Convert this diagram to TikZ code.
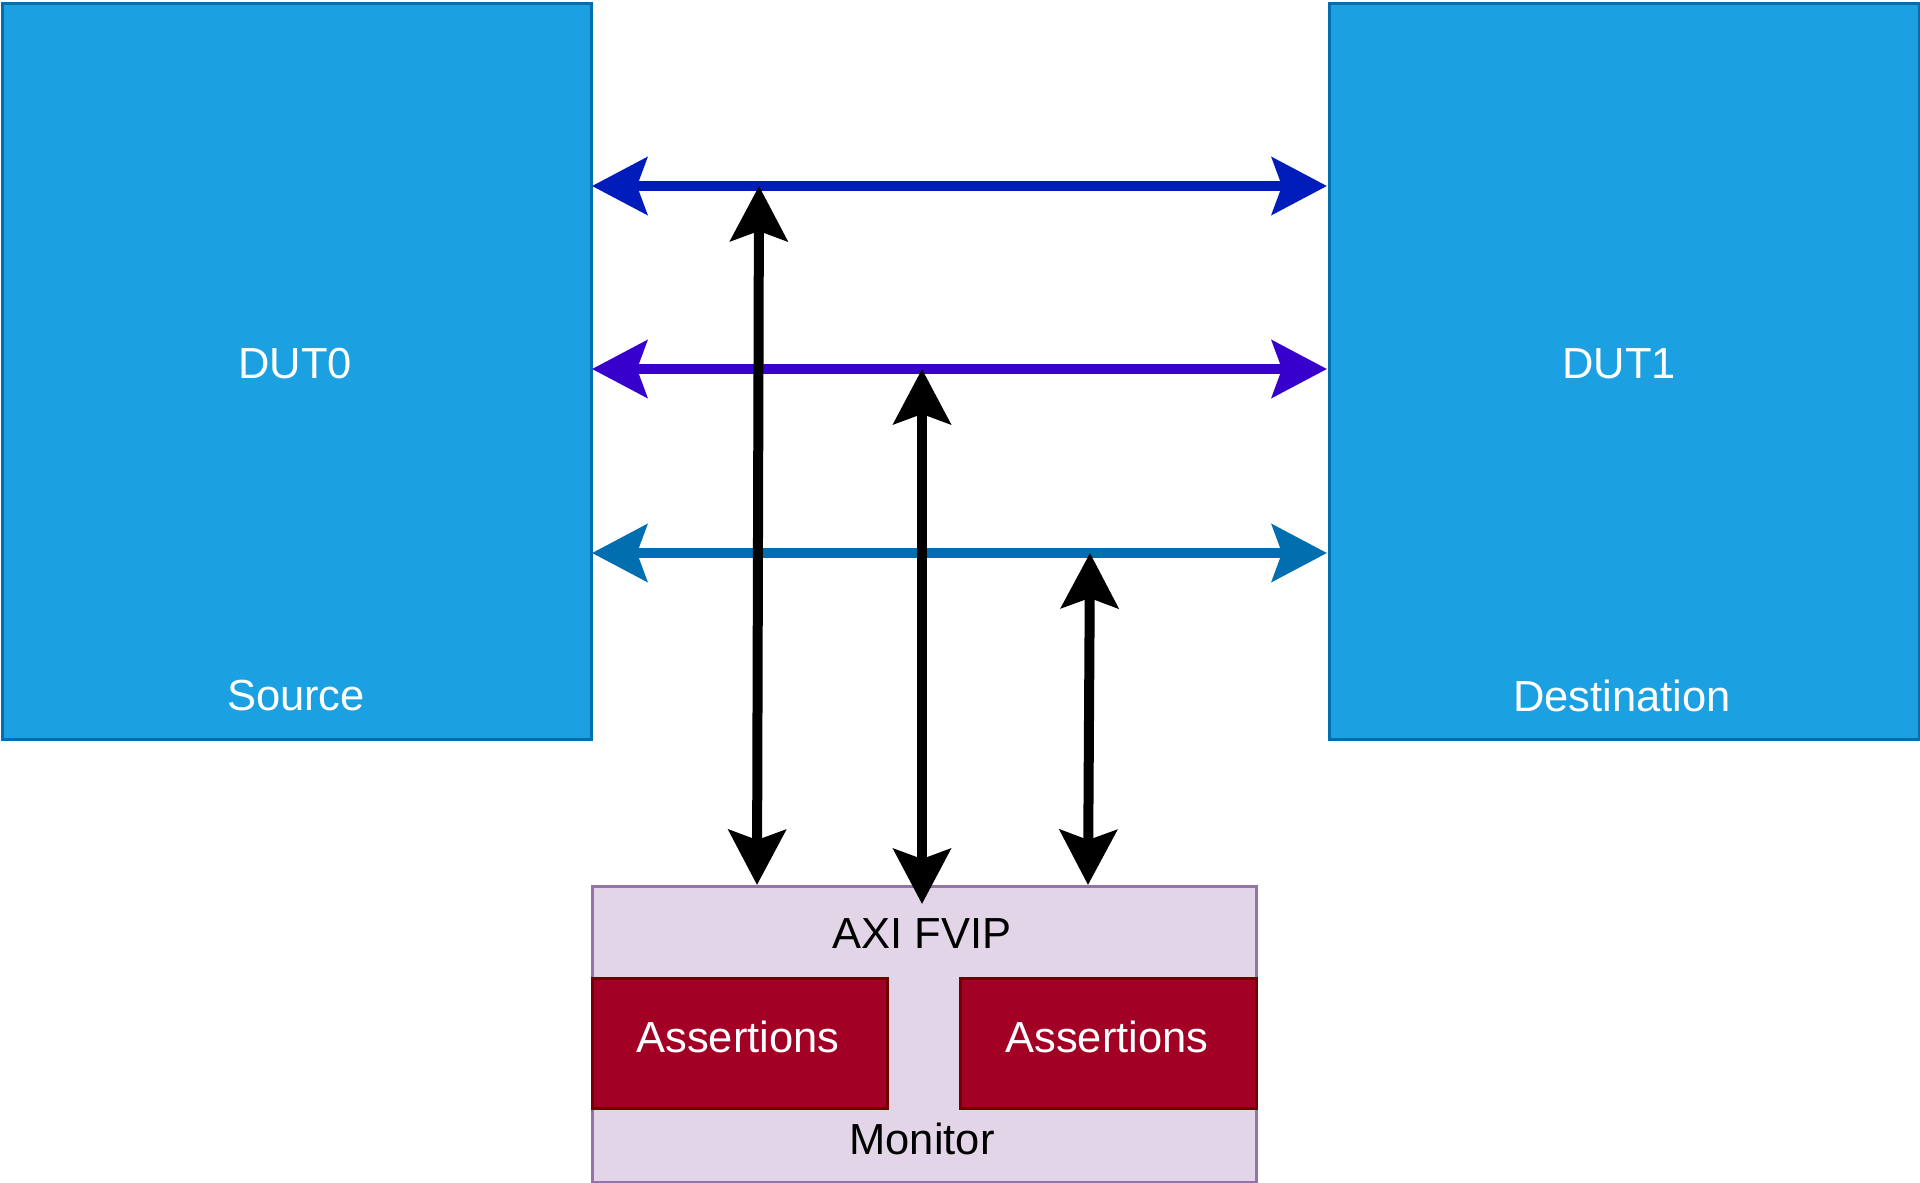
\documentclass[tikz,border=0pt]{standalone}
\usepackage{fontspec}
\setmainfont{Liberation Sans}
\usetikzlibrary{arrows.meta}
\definecolor{dutfill}{HTML}{1BA1E2}
\definecolor{dutline}{HTML}{006EAF}
\definecolor{monfill}{HTML}{E1D5E7}
\definecolor{monline}{HTML}{9673A6}
\definecolor{asfill}{HTML}{A20025}
\definecolor{asline}{HTML}{6F0000}
\definecolor{busA}{HTML}{001DBC}
\definecolor{busB}{HTML}{3700CC}
\definecolor{busC}{HTML}{006EAF}
\tikzset{
  box/.style={rectangle, inner sep=0pt, anchor=north west, line width=3pt},
  dutbox/.style={box, fill=dutfill, draw=dutline},
  monbox/.style={box, fill=monfill, draw=monline},
  asbox/.style={box, fill=asfill, draw=asline},
  lbl/.style={inner sep=0pt, font=\fontsize{43.5}{52}\selectfont},
  wlbl/.style={lbl, text=white},
  blbl/.style={lbl, text=black},
  >={Stealth[length=55pt,width=57pt,inset=10pt]},
  bus/.style={line width=10pt, <->},
  link/.style={line width=10pt, <->, draw=black},
}
\begin{document}
\begin{tikzpicture}[x=1pt,y=-1pt]
\useasboundingbox (0,0) rectangle (1920,1183);
% DUT boxes
\node[dutbox, minimum width=589pt, minimum height=736pt] (dut0) at (1,1.5) {};
\node[dutbox, minimum width=590pt, minimum height=736pt] (dut1) at (1327.5,1.5) {};
\node[wlbl] (dut0t) at (295,364) {DUT0};
\node[wlbl] (srct) at (296,696) {Source};
\node[wlbl] (dut1t) at (1619,364) {DUT1};
\node[wlbl] (dstt) at (1622,696) {Destination};
% monitor
\node[monbox, minimum width=664pt, minimum height=296pt] (mon) at (590.5,885) {};
\node[blbl] (axit) at (922,934) {AXI FVIP};
\node[blbl] (mont) at (922,1139) {Monitor};
\node[asbox, minimum width=295pt, minimum height=130pt] (as1) at (590.5,977) {};
\node[asbox, minimum width=296pt, minimum height=130pt] (as2) at (958.5,977) {};
\node[wlbl] (as1t) at (738,1037) {Assertions};
\node[wlbl] (as2t) at (1107,1037) {Assertions};
% bus coordinates
\coordinate (a0) at (592,186);
\coordinate (a1) at (1327,186);
\coordinate (b0) at (592,369);
\coordinate (b1) at (1327,369);
\coordinate (c0) at (592,553);
\coordinate (c1) at (1327,553);
\draw[bus, draw=busA, fill=busA] (a0) -- (a1);
\draw[bus, draw=busB, fill=busB] (b0) -- (b1);
\draw[bus, draw=busC, fill=busC] (c0) -- (c1);
% monitor links
\coordinate (ta) at (759,186);
\coordinate (ba) at (757,885);
\coordinate (tb) at (922,369);
\coordinate (bb) at (922,904);
\coordinate (tc) at (1090,553);
\coordinate (bc) at (1088,885);
\draw[link, fill=black] (ta) -- (ba);
\draw[link, fill=black] (tb) -- (bb);
\draw[link, fill=black] (tc) -- (bc);
\end{tikzpicture}
\end{document}
